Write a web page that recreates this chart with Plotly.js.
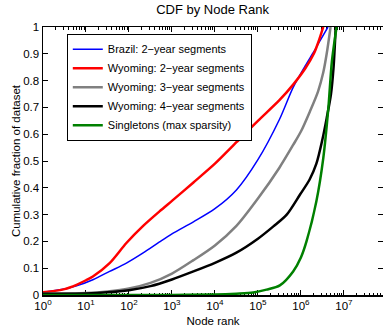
<!DOCTYPE html>
<html><head><meta charset="utf-8">
<script src="https://cdn.plot.ly/plotly-3.0.1.min.js"></script>
<style>html,body{margin:0;padding:0;background:#fff;overflow:hidden}</style>
</head><body><div id="chart" style="width:383px;height:328px"></div>
<script>
// Node rank (as log10 exponent) and cumulative fraction for each series
const brazil2Exp = [0, 0.5, 0.78, 1.16, 1.55, 1.94, 2.33, 2.71, 3.0, 3.5, 4.0, 4.5, 5.0, 5.5, 5.82, 6.1, 6.3, 6.45, 6.63];
const brazil2Cdf = [0.01, 0.022, 0.034, 0.057, 0.088, 0.119, 0.157, 0.198, 0.228, 0.273, 0.322, 0.392, 0.505, 0.655, 0.775, 0.855, 0.908, 0.95, 1.0];

const wyo2Exp = [0, 0.5, 0.78, 1.0, 1.16, 1.55, 1.94, 2.33, 2.71, 3.02, 3.5, 4.0, 4.5, 5.0, 5.5, 5.82, 6.1, 6.3, 6.42, 6.52];
const wyo2Cdf = [0.01, 0.022, 0.038, 0.055, 0.069, 0.119, 0.194, 0.258, 0.312, 0.354, 0.42, 0.49, 0.57, 0.65, 0.727, 0.785, 0.845, 0.9, 0.95, 1.0];

const wyo3Exp = [0, 1.0, 1.5, 2.0, 2.5, 3.0, 3.5, 4.0, 4.5, 5.0, 5.5, 5.82, 6.0, 6.21, 6.4, 6.52, 6.6, 6.69];
const wyo3Cdf = [0.005, 0.007, 0.013, 0.024, 0.045, 0.08, 0.13, 0.185, 0.258, 0.36, 0.475, 0.56, 0.61, 0.685, 0.76, 0.83, 0.9, 1.0];

const wyo4Exp = [0, 1.0, 1.5, 2.0, 2.5, 3.0, 3.5, 4.0, 4.5, 5.0, 5.36, 5.67, 5.98, 6.2, 6.36, 6.5, 6.6, 6.7, 6.76, 6.81];
const wyo4Cdf = [0.005, 0.006, 0.01, 0.018, 0.033, 0.058, 0.088, 0.12, 0.158, 0.21, 0.256, 0.30, 0.375, 0.43, 0.49, 0.58, 0.66, 0.75, 0.85, 1.0];

const singleExp = [0, 3, 4, 4.5, 4.89, 5.2, 5.51, 5.82, 6.0, 6.13, 6.36, 6.52, 6.64, 6.72, 6.83];
const singleCdf = [0, 0.0003, 0.002, 0.005, 0.009, 0.02, 0.036, 0.088, 0.14, 0.2, 0.35, 0.51, 0.70, 0.87, 1.0];

const seriesNames = ['Brazil: 2−year segments', 'Wyoming: 2−year segments', 'Wyoming: 3−year segments', 'Wyoming: 4−year segments', 'Singletons (max sparsity)'];

const xTickVals = [1, 10, 100, 1e3, 1e4, 1e5, 1e6, 1e7];
const xTickText = ['10<sup>0</sup>', '10<sup>1</sup>', '10<sup>2</sup>', '10<sup>3</sup>', '10<sup>4</sup>', '10<sup>5</sup>', '10<sup>6</sup>', '10<sup>7</sup>'];
const yTickVals = [0, 0.1, 0.2, 0.3, 0.4, 0.5, 0.6, 0.7, 0.8, 0.9, 1];

const toRank = e => e.map(v => Math.pow(10, v));

const styles = [
  {color: '#0000ff', width: 1.5},
  {color: '#ff0000', width: 2.5},
  {color: '#808080', width: 2.5},
  {color: '#000000', width: 2.5},
  {color: '#008000', width: 2.5}
];
const xs = [brazil2Exp, wyo2Exp, wyo3Exp, wyo4Exp, singleExp];
const ys = [brazil2Cdf, wyo2Cdf, wyo3Cdf, wyo4Cdf, singleCdf];

const traces = xs.map((xe, i) => ({
  type: 'scatter', mode: 'lines',
  x: toRank(xe), y: ys[i], name: seriesNames[i],
  line: {color: styles[i].color, width: styles[i].width, shape: 'spline', smoothing: 0.8}
}));

const font = {family: 'Liberation Sans, Arial, sans-serif', color: '#000'};

const layout = {
  width: 383, height: 328,
  margin: {l: 43, r: 0, t: 27, b: 33},
  paper_bgcolor: '#fff', plot_bgcolor: '#fff',
  font: Object.assign({size: 11}, font),
  title: {text: 'CDF by Node Rank', font: Object.assign({size: 13}, font), x: 0.555, xanchor: 'center', y: 0.985, yanchor: 'top'},
  showlegend: true,
  legend: {
    x: 0.07, y: 0.975, xanchor: 'left', yanchor: 'top',
    bgcolor: '#fff', bordercolor: '#000', borderwidth: 1,
    font: Object.assign({size: 11}, font),
    itemwidth: 30, tracegroupgap: 0
  },
  xaxis: {
    type: 'log', range: [0, 7.91],
    tickvals: xTickVals, ticktext: xTickText,
    ticks: 'inside', ticklen: 5, tickcolor: '#000',
    minor: {ticks: 'inside', ticklen: 2.5, tickcolor: '#000', dtick: 'D1'},
    showline: true, linecolor: '#000', linewidth: 1.5, mirror: 'ticks',
    showgrid: false, zeroline: false, layer: 'below traces',
    tickfont: Object.assign({size: 11.5}, font),
    title: {text: 'Node rank', font: Object.assign({size: 11.5}, font), standoff: 5}
  },
  yaxis: {
    range: [0, 1], tickvals: yTickVals,
    ticks: 'inside', ticklen: 5, tickcolor: '#000',
    showline: true, linecolor: '#000', linewidth: 1.5, mirror: 'ticks',
    showgrid: false, zeroline: false, layer: 'below traces',
    tickfont: Object.assign({size: 11.5}, font),
    title: {text: 'Cumulative fraction of dataset', font: Object.assign({size: 11.5}, font), standoff: 0}
  }
};

Plotly.newPlot('chart', traces, layout, {staticPlot: true, displayModeBar: false});
</script>
</body></html>
